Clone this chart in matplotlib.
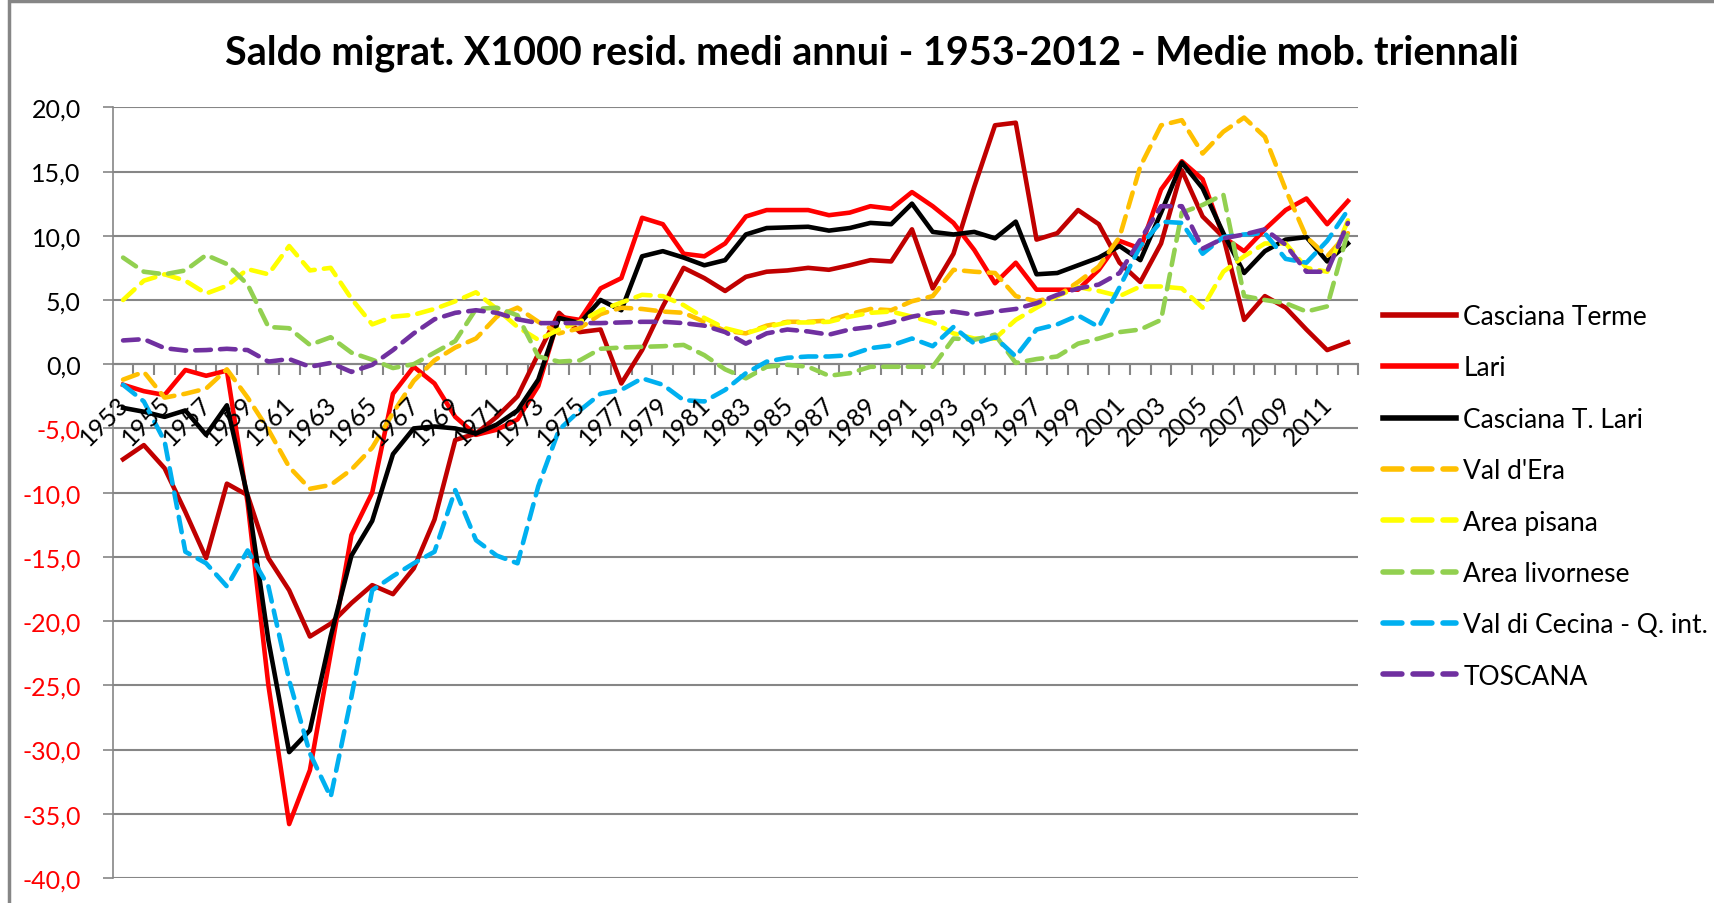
import matplotlib
matplotlib.use("Agg")
import matplotlib.pyplot as plt
from matplotlib import font_manager
from matplotlib.patches import Rectangle
import numpy as np

# Dati: saldo migratorio x1000 residenti, medie mobili triennali
years = list(range(1953, 2013))

casciana_terme = [-7.4, -6.3, -8.1, -11.5, -15.1, -9.3, -10.2, -15.1, -17.6, -21.2,
                  -20.2, -18.6, -17.2, -17.9, -15.9, -12.1, -5.9, -5.4, -4.1, -2.5,
                  0.8, 4.0, 2.5, 2.7, -1.5, 1.1, 4.5, 7.5, 6.7, 5.7,
                  6.8, 7.2, 7.3, 7.5, 7.35, 7.7, 8.1, 8.0, 10.5, 5.9,
                  8.6, 13.8, 18.6, 18.8, 9.7, 10.2, 12.0, 10.9, 7.9, 6.4,
                  9.4, 15.1, 11.5, 9.9, 3.45, 5.3, 4.4, 2.7, 1.1, 1.7]
lari = [-1.6, -2.1, -2.4, -0.45, -0.9, -0.5, -10.8, -25.0, -35.8, -31.6,
        -22.5, -13.3, -10.0, -2.3, -0.2, -1.5, -4.1, -5.5, -5.1, -4.3,
        -1.7, 3.7, 3.45, 5.9, 6.7, 11.4, 10.9, 8.6, 8.4, 9.4,
        11.5, 12.0, 12.0, 12.0, 11.6, 11.8, 12.3, 12.1, 13.4, 12.3,
        11.0, 8.9, 6.3, 7.9, 5.8, 5.8, 5.8, 7.35, 9.6, 9.0,
        13.6, 15.8, 14.4, 9.9, 8.8, 10.5, 12.0, 12.9, 10.9, 12.7]
casciana_t_lari = [-3.4, -3.7, -4.1, -3.6, -5.5, -3.2, -10.3, -21.5, -30.2, -28.5,
                   -21.2, -14.9, -12.2, -7.0, -5.0, -4.85, -5.0, -5.4, -4.7, -3.6,
                   -1.2, 3.6, 3.2, 5.0, 4.2, 8.4, 8.8, 8.3, 7.7, 8.1,
                   10.1, 10.6, 10.65, 10.7, 10.4, 10.6, 11.0, 10.9, 12.5, 10.3,
                   10.1, 10.3, 9.8, 11.1, 7.0, 7.1, 7.7, 8.3, 9.2, 8.1,
                   11.8, 15.7, 13.7, 10.2, 7.1, 8.8, 9.7, 9.9, 8.0, 9.4]
val_d_era = [-1.2, -0.6, -2.6, -2.3, -1.9, -0.4, -2.6, -5.1, -8.0, -9.7,
             -9.4, -8.2, -6.5, -3.8, -1.3, 0.3, 1.3, 2.0, 3.7, 4.4,
             3.3, 2.4, 2.8, 3.9, 4.4, 4.3, 4.1, 4.0, 3.3, 2.6,
             2.4, 3.0, 3.3, 3.3, 3.4, 3.9, 4.3, 4.2, 4.9, 5.3,
             7.35, 7.2, 7.1, 5.3, 4.9, 5.3, 6.4, 7.6, 9.9, 15.4,
             18.6, 19.0, 16.4, 18.1, 19.2, 17.7, 13.6, 9.9, 8.4, 10.2]
area_pisana = [5.0, 6.5, 7.0, 6.5, 5.5, 6.1, 7.4, 7.0, 9.2, 7.3,
               7.5, 5.1, 3.1, 3.7, 3.85, 4.3, 4.9, 5.6, 4.3, 2.9,
               1.9, 2.7, 3.3, 4.2, 4.8, 5.4, 5.3, 4.6, 3.6, 2.8,
               2.4, 2.9, 3.25, 3.25, 3.3, 3.7, 4.0, 4.1, 3.7, 3.25,
               2.4, 2.0, 2.0, 3.45, 4.4, 5.3, 6.0, 5.7, 5.3, 6.05,
               6.05, 5.9, 4.4, 7.2, 8.4, 9.4, 9.4, 7.5, 7.2, 11.2]
area_livornese = [8.3, 7.2, 7.0, 7.3, 8.5, 7.8, 6.2, 2.9, 2.8, 1.5,
                  2.1, 0.9, 0.35, -0.3, 0.0, 0.9, 1.8, 4.3, 4.4, 3.8,
                  0.6, 0.2, 0.3, 1.2, 1.3, 1.35, 1.4, 1.5, 0.7, -0.4,
                  -1.1, -0.2, -0.05, -0.2, -0.9, -0.7, -0.2, -0.2, -0.2, -0.2,
                  2.0, 1.9, 2.3, 0.1, 0.4, 0.6, 1.6, 2.0, 2.5, 2.7,
                  3.45, 11.8, 12.4, 13.2, 5.3, 5.0, 4.75, 4.1, 4.5, 10.3]
val_di_cecina = [-1.6, -2.9, -6.0, -14.6, -15.5, -17.3, -14.5, -17.3, -24.6, -30.3,
                 -33.7, -25.9, -17.6, -16.5, -15.5, -14.6, -9.8, -13.7, -14.9, -15.5,
                 -9.5, -5.1, -3.6, -2.3, -2.0, -1.1, -1.6, -2.8, -2.9, -2.0,
                 -0.7, 0.2, 0.5, 0.6, 0.6, 0.7, 1.25, 1.45, 2.0, 1.4,
                 2.9, 1.6, 2.1, 0.6, 2.7, 3.1, 3.8, 2.9, 6.0, 9.2,
                 11.1, 11.0, 8.6, 9.9, 10.1, 10.2, 8.2, 7.9, 9.6, 12.0]
toscana = [1.85, 1.95, 1.25, 1.06, 1.1, 1.2, 1.1, 0.2, 0.4, -0.2,
           0.1, -0.6, -0.05, 1.1, 2.4, 3.5, 4.0, 4.2, 4.0, 3.5,
           3.2, 3.2, 3.2, 3.2, 3.25, 3.3, 3.3, 3.2, 3.0, 2.5,
           1.6, 2.4, 2.7, 2.55, 2.3, 2.7, 2.9, 3.25, 3.7, 4.0,
           4.1, 3.85, 4.1, 4.3, 4.75, 5.4, 5.9, 6.2, 7.1, 9.7,
           12.3, 12.3, 9.0, 9.8, 10.1, 10.5, 9.3, 7.2, 7.2, 11.0]

series_names = ["Casciana Terme", "Lari", "Casciana T. Lari", "Val d'Era",
                "Area pisana", "Area livornese", "Val di Cecina - Q. int.", "TOSCANA"]
series_values = [casciana_terme, lari, casciana_t_lari, val_d_era,
                 area_pisana, area_livornese, val_di_cecina, toscana]
series_colors = ["#C00000", "#FF0000", "#000000", "#FFC000",
                 "#FFFF00", "#92D050", "#00B0F0", "#7030A0"]
series_dashed = [False, False, False, True, True, True, True, True]

y_ticks = list(range(-40, 25, 5))

# Font
names = {f.name for f in font_manager.fontManager.ttflist}
base_font = "Lato" if "Lato" in names else "DejaVu Sans"
plt.rcParams["font.family"] = [base_font, "DejaVu Sans"]

W, H = 1715, 904
fig = plt.figure(figsize=(W / 100, H / 100), dpi=100)
ax = fig.add_axes([112.7 / W, (H - 879) / H, (1358.3 - 112.7) / W, (879 - 108.3) / H])

grid_col = "#868686"
x = np.arange(len(years))
for name, vals, col, dashed in zip(series_names, series_values, series_colors, series_dashed):
    if dashed:
        ax.plot(x, vals, color=col, lw=3.3, linestyle=(0, (3.4, 2.0)),
                dash_capstyle="round", dash_joinstyle="round", label=name, zorder=3)
    else:
        ax.plot(x, vals, color=col, lw=3.3, solid_joinstyle="round", label=name, zorder=3)

ax.set_xlim(-0.5, len(years) - 0.5)
ax.set_ylim(-40, 20)

# Griglia e assi
ax.set_yticks(y_ticks)
ax.set_yticklabels([f"{v:.1f}".replace(".", ",") for v in y_ticks], fontsize=18)
for lab, v in zip(ax.get_yticklabels(), y_ticks):
    lab.set_color("#FF0000" if v < 0 else "black")
ax.yaxis.grid(True, color=grid_col, lw=1.5)
ax.set_axisbelow(True)
ax.tick_params(axis="y", direction="out", length=7, width=1.2, color=grid_col, pad=16)

for s in ["top", "right"]:
    ax.spines[s].set_visible(False)
ax.spines["left"].set_color(grid_col)
ax.spines["left"].set_linewidth(1.2)
ax.spines["bottom"].set_position(("data", 0))
ax.spines["bottom"].set_color(grid_col)
ax.spines["bottom"].set_linewidth(1.5)

ax.set_xticks(np.arange(0.5, len(years), 1.0))
ax.tick_params(axis="x", direction="out", length=8, width=1.5, color=grid_col, labelbottom=False)

for i, yr in enumerate(years):
    if (yr - 1953) % 2 == 0:
        ax.text(i - 0.3, -2.1, str(yr), rotation=45, ha="right", va="top",
                rotation_mode="anchor", fontsize=18, color="black")

# Titolo
title = fig.text(872 / W, 1 - 53 / H,
                 "Saldo migrat. X1000 resid. medi annui - 1953-2012 - Medie mob. triennali",
                 ha="center", va="center", fontsize=28, fontweight="bold")
fig.canvas.draw()
tw = title.get_window_extent().width
title.set_fontsize(28 * 1296 / tw)

# Legenda
leg = fig.legend(loc="upper left", bbox_to_anchor=(1383 / W, 1 - 305 / H),
                 frameon=False, fontsize=19, handlelength=2.75, handletextpad=0.3,
                 labelspacing=1.0, borderpad=0, borderaxespad=0)
for h in leg.get_lines():
    h.set_linewidth(4)

# Cornice del grafico
fig.patches.append(Rectangle((9 / W, -0.1), 1.2, 1.1 - 2 / H, transform=fig.transFigure,
                             fill=False, edgecolor=grid_col, lw=2.5))

fig.savefig("out.png", dpi=100)
